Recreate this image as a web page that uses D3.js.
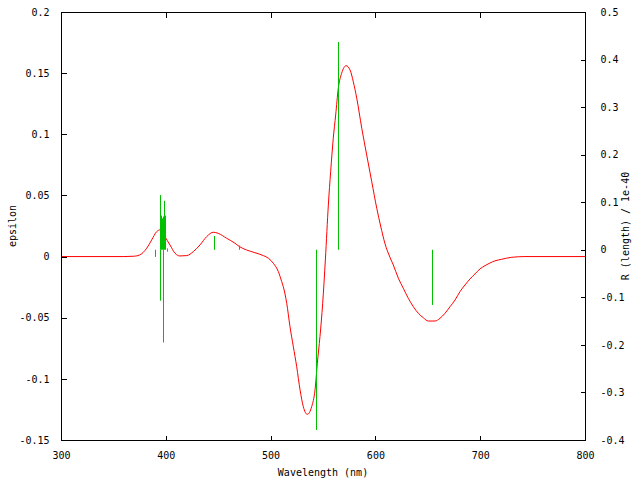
<!DOCTYPE html>
<html>
<head>
<meta charset="utf-8">
<script src="https://cdn.jsdelivr.net/npm/d3@7"></script>
<style>
  html, body { margin: 0; padding: 0; background: #fff; }
  svg { display: block; }
  text { font-family: "DejaVu Sans Mono", "Liberation Mono", monospace; font-size: 10px; fill: #000; }
</style>
</head>
<body>
<svg id="chart" width="640" height="480"></svg>
<script>
// ---- data ----
const curveWavelength = [300, 360, 370, 375, 381.8, 386.5, 391.3, 394.5, 397, 399.2, 404, 408.8, 413.5, 420, 426.2, 432.6, 439, 445.3, 450, 458, 466, 470, 477, 485, 493, 498, 502.6, 507.4, 510.6, 512.1, 515.4, 518.5, 521.7, 524.9, 528.1, 531.2, 535, 539.2, 542.4, 544.6, 547.1, 549.7, 552.3, 555.1, 557.3, 559.8, 562.1, 564.6, 567.8, 572, 575.8, 578.9, 582.2, 587, 591.7, 596.5, 601.3, 605, 609, 613.9, 617.1, 621.9, 626.6, 631.4, 636.2, 641, 645.7, 650.5, 656.9, 661.6, 666.4, 671.2, 676, 680.7, 685.5, 690.3, 695, 699.8, 704.6, 709.4, 714.1, 720.5, 730, 742.7, 800];
const curveEpsilon = [0, 0, 0.0003, 0.0013, 0.0068, 0.0136, 0.0204, 0.0218, 0.020, 0.0163, 0.0095, 0.0027, 0.0005, 0.0008, 0.004, 0.0095, 0.0163, 0.0199, 0.019, 0.015, 0.0109, 0.0083, 0.0054, 0.0032, 0.0008, -0.0014, -0.0055, -0.0123, -0.0205, -0.0246, -0.0382, -0.0573, -0.0737, -0.09, -0.109, -0.1227, -0.129, -0.1227, -0.109, -0.0873, -0.0655, -0.0382, -0.002, 0.0422, 0.0694, 0.0967, 0.1158, 0.1376, 0.1499, 0.1561, 0.1526, 0.143, 0.1295, 0.1049, 0.0831, 0.0613, 0.0395, 0.025, 0.011, -0.0006, -0.0069, -0.0177, -0.0259, -0.0341, -0.041, -0.0464, -0.05, -0.0527, -0.0527, -0.0505, -0.0464, -0.041, -0.0355, -0.0287, -0.0232, -0.0183, -0.0142, -0.0101, -0.0074, -0.0052, -0.0035, -0.0022, -0.0006, 0, 0];

const spikeWavelength = [390.0, 394.4, 394.6, 395.4, 396.4, 397.3, 397.6, 398.3, 399.0, 401.5, 401.6, 446.0, 470.0, 543.3, 564.6, 654.3];
const spikeR = [-0.015, 0.115, -0.107, 0.072, 0.066, 0.070, -0.195, 0.103, 0.072, -0.004, 0.003, 0.029, 0.009, -0.379, 0.437, -0.116];

const xTicks = [300, 400, 500, 600, 700, 800];
const yTicks = [-0.15, -0.1, -0.05, 0, 0.05, 0.1, 0.15, 0.2];
const y2Ticks = [-0.4, -0.3, -0.2, -0.1, 0, 0.1, 0.2, 0.3, 0.4, 0.5];

const xLabel = "Wavelength (nm)";
const yLabel = "epsilon";
const y2Label = "R (length) / 1e-40";

// ---- layout ----
const W = 640, H = 480;
const m = { left: 61, right: 55, top: 12, bottom: 40 };
const x0 = m.left, x1 = W - m.right, yTop = m.top, yBot = H - m.bottom;

const svg = d3.select("#chart");

const x = d3.scaleLinear().domain([300, 800]).range([x0, x1]);
const y = d3.scaleLinear().domain([-0.15, 0.2]).range([yBot, yTop]);
const y2 = d3.scaleLinear().domain([-0.4, 0.5]).range([yBot, yTop]);

const fmt = v => (Math.abs(v) < 1e-12) ? "0" : String(+v.toFixed(3));

// curve (epsilon)
const curve = curveWavelength.map((w, i) => [w, curveEpsilon[i]]);
svg.append("path")
  .datum(curve)
  .attr("fill", "none")
  .attr("stroke", "#ff0000")
  .attr("stroke-width", 1)
  .attr("d", d3.line().x(d => x(d[0])).y(d => y(d[1])).curve(d3.curveMonotoneX));

// impulses (R)
const spikes = spikeWavelength.map((w, i) => [w, spikeR[i]]);
svg.append("g").selectAll("line")
  .data(spikes)
  .join("line")
  .attr("x1", d => Math.round(x(d[0])) + 0.5)
  .attr("x2", d => Math.round(x(d[0])) + 0.5)
  .attr("y1", y2(0))
  .attr("y2", d => y2(d[1]))
  .attr("stroke", "#00c000")
  .attr("stroke-width", 1);

// axes with d3
const tickLen = 5;
const gx = svg.append("g").attr("transform", `translate(0,${yBot + 0.5})`)
  .call(d3.axisBottom(x).tickValues(xTicks).tickSize(-tickLen).tickPadding(12).tickFormat(d3.format("d")));
const gxTop = svg.append("g").attr("transform", `translate(0,${yTop + 0.5})`)
  .call(d3.axisTop(x).tickValues(xTicks).tickSize(-tickLen).tickFormat(""));
const gy = svg.append("g").attr("transform", `translate(${x0 + 0.5},0)`)
  .call(d3.axisLeft(y).tickValues(yTicks).tickSize(-tickLen).tickPadding(12).tickFormat(fmt));
const gy2 = svg.append("g").attr("transform", `translate(${x1 + 0.5},0)`)
  .call(d3.axisRight(y2).tickValues(y2Ticks).tickSize(-tickLen).tickPadding(15).tickFormat(fmt));

[gx, gxTop, gy, gy2].forEach(g => {
  g.select(".domain").remove();
  g.selectAll(".tick line").attr("stroke", "#000").attr("shape-rendering", "crispEdges");
  g.selectAll("text").attr("font-family", null).attr("font-size", null).attr("fill", "#000");
});
gx.selectAll(".tick text").attr("dy", null).attr("dominant-baseline", "middle").attr("y", 15);

// border box
svg.append("rect")
  .attr("x", x0 + 0.5).attr("y", yTop + 0.5)
  .attr("width", x1 - x0).attr("height", yBot - yTop)
  .attr("fill", "none").attr("stroke", "#000").attr("shape-rendering", "crispEdges");

// labels
svg.append("text").attr("x", (x0 + x1) / 2).attr("y", 473)
  .attr("text-anchor", "middle").attr("dominant-baseline", "middle").text(xLabel);
svg.append("text").attr("transform", `translate(13,${(yTop + yBot) / 2}) rotate(-90)`)
  .attr("text-anchor", "middle").attr("dominant-baseline", "middle").text(yLabel);
svg.append("text").attr("transform", `translate(626,${(yTop + yBot) / 2}) rotate(-90)`)
  .attr("text-anchor", "middle").attr("dominant-baseline", "middle").text(y2Label);
</script>
</body>
</html>
